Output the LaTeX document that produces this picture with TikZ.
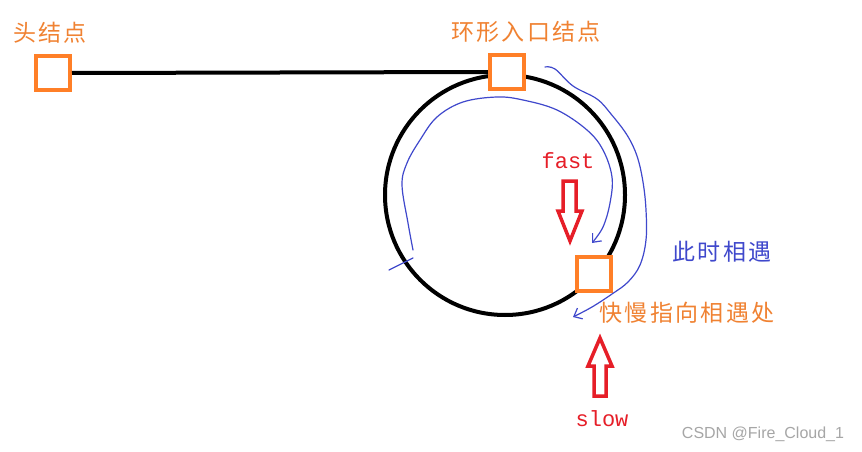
\documentclass[tikz,border=0pt]{standalone}
\usepackage{fontspec}
\newfontfamily\cjk[LetterSpace=10]{Noto Sans CJK SC}
\newfontfamily\monof{Liberation Mono}
\newfontfamily\wmfont{Liberation Sans}
\usetikzlibrary{arrows.meta}
\definecolor{sqorange}{RGB}{255,127,39}
\definecolor{txtorange}{RGB}{240,130,50}
\definecolor{pred}{RGB}{230,30,40}
\definecolor{pblue}{RGB}{63,72,204}
\begin{document}
\begin{tikzpicture}[x=1pt,y=-1pt,
  sq/.style={draw=sqorange, fill=white, line width=4pt, minimum size=34pt, inner sep=0pt},
  lbl/.style={text=txtorange, font=\cjk\fontsize{23}{25}\selectfont, inner sep=0pt},
  bluelbl/.style={text=pblue, font=\cjk\fontsize{23}{25}\selectfont, inner sep=0pt},
  monolbl/.style={text=pred, font=\monof\fontsize{22}{24}\selectfont, inner sep=0pt},
  hollow/.style={draw=pred, fill=white, line width=3.5pt, line join=miter},
  bluepath/.style={draw=pblue, line width=1.2pt, line cap=round},
  bluearrow/.style={bluepath, -{Straight Barb[length=7pt,width=12pt,line width=1.2pt]}},
]
\useasboundingbox (0,0) rectangle (862,452);
\fill[white] (0,0) rectangle (862,452);

% ring
\node[draw=black, line width=4pt, circle, minimum size=240pt, inner sep=0pt] (ring) at (505,195) {};

% nodes
\node[sq] (head) at (53,73) {};
\node[sq] (entry) at (507,72) {};
\draw[line width=4pt] (head.east) -- (entry.west);
\node[sq] (entry2) at (507,72) {};
\node[sq] (meet) at (594,274) {};

% labels
\node[lbl] (headlbl) at (50,33) {头结点};
\node[lbl] (entrylbl) at (526,32) {环形入口结点};
\node[bluelbl] (meetnow) at (722,252) {此时相遇};
\node[lbl] (meetlbl) at (687,313) {快慢指向相遇处};
\node[monolbl] (fast) at (568,161) {fast};
\node[monolbl] (slow) at (602,419) {slow};
\node[text=black!35, font=\wmfont\fontsize{16}{18}\selectfont, inner sep=0pt] (wm) at (763,434) {CSDN @Fire\_Cloud\_1};

% red hollow arrows
\draw[hollow] (563,181) -- (576,181) -- (576,211) -- (582,211) -- (570,241) -- (558,211) -- (563,211) -- cycle;
\draw[hollow] (594,396) -- (606,396) -- (606,366) -- (612,366) -- (600,338) -- (588,366) -- (594,366) -- cycle;

% blue freehand strokes
\draw[bluearrow] plot[smooth, tension=0.6] coordinates {(545,67) (555,69) (573,86) (597,99) (611,114) (627,135) (637,156) (643,182) (646,210) (646,240) (640,265) (628,282) (612,294) (592,307) (573,317)};
\draw[bluearrow] plot[smooth, tension=0.6] coordinates {(413,250) (408,223) (402,185) (407,163) (420,140) (437,117) (463,102) (497,97) (523,100) (557,110) (587,130) (603,150) (612,177) (610,203) (603,227) (592,243)};
\draw[bluepath] (389,270) -- (413,258);
\end{tikzpicture}
\end{document}
